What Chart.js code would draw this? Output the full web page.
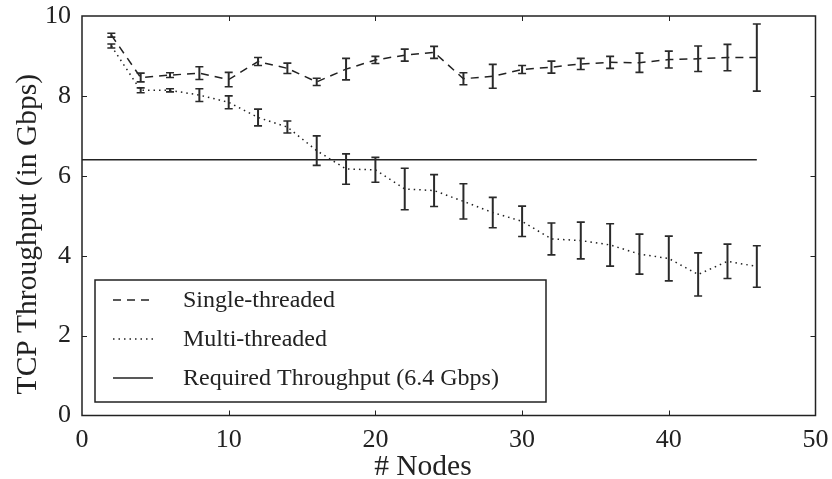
<!DOCTYPE html>
<html>
<head>
<meta charset="utf-8">
<script src="https://cdn.jsdelivr.net/npm/chart.js@4/dist/chart.umd.min.js"></script>
<style>
  html, body { margin: 0; padding: 0; background: #fff; }
</style>
</head>
<body>
<canvas id="chart" width="832" height="479"></canvas>
<script>
// values
const nodes = [2, 4, 6, 8, 10, 12, 14, 16, 18, 20, 22, 24, 26, 28, 30, 32, 34, 36, 38, 40, 42, 44, 46];
const singleThreaded = [9.52, 8.46, 8.52, 8.57, 8.41, 8.86, 8.69, 8.35, 8.67, 8.9, 9.02, 9.09, 8.43, 8.49, 8.66, 8.72, 8.8, 8.84, 8.83, 8.91, 8.93, 8.96, 8.96];
const singleErr = [0.05, 0.11, 0.06, 0.16, 0.18, 0.1, 0.13, 0.09, 0.27, 0.09, 0.15, 0.15, 0.15, 0.3, 0.1, 0.15, 0.14, 0.15, 0.24, 0.21, 0.32, 0.33, 0.84];
const multiThreaded = [9.25, 8.14, 8.14, 8.02, 7.84, 7.46, 7.22, 6.63, 6.17, 6.15, 5.67, 5.63, 5.36, 5.08, 4.86, 4.42, 4.38, 4.27, 4.04, 3.93, 3.53, 3.86, 3.73];
const multiErr = [0.05, 0.06, 0.04, 0.16, 0.16, 0.21, 0.15, 0.37, 0.38, 0.31, 0.52, 0.4, 0.44, 0.38, 0.38, 0.4, 0.46, 0.53, 0.5, 0.56, 0.54, 0.43, 0.52];
const requiredX = [0, 46];
const requiredY = [6.4, 6.4];
const seriesLabels = ["Single-threaded", "Multi-threaded", "Required Throughput (6.4 Gbps)"];
const xTicks = [0, 10, 20, 30, 40, 50];
const yTicks = [0, 2, 4, 6, 8, 10];

const ink = "#222";
const serif = "'Liberation Serif', 'DejaVu Serif', serif";

function toPoints(xs, ys) {
  return xs.map((x, i) => ({ x: x, y: ys[i] }));
}

// error bars drawn through the y scale
const errorBars = {
  id: "errorBars",
  afterDatasetsDraw(chart) {
    const ctx = chart.ctx;
    const xs = chart.scales.x, ys = chart.scales.y;
    ctx.save();
    ctx.strokeStyle = "#2a2a2a";
    chart.data.datasets.forEach(ds => {
      if (!ds.errors) return;
      ds.data.forEach((p, i) => {
        const e = ds.errors[i];
        const px = xs.getPixelForValue(p.x);
        const top = ys.getPixelForValue(p.y + e);
        const bot = ys.getPixelForValue(p.y - e);
        ctx.lineWidth = 2;
        ctx.beginPath();
        ctx.moveTo(px, top); ctx.lineTo(px, bot);
        ctx.stroke();
        ctx.lineWidth = 1.6;
        ctx.beginPath();
        ctx.moveTo(px - 4, top); ctx.lineTo(px + 4, top);
        ctx.moveTo(px - 4, bot); ctx.lineTo(px + 4, bot);
        ctx.stroke();
      });
    });
    ctx.restore();
  }
};

// box frame with inward ticks, and the boxed legend
const frame = {
  id: "frame",
  afterDraw(chart) {
    const ctx = chart.ctx;
    const a = chart.chartArea;
    const xs = chart.scales.x, ys = chart.scales.y;
    ctx.save();
    ctx.strokeStyle = ink;
    ctx.lineWidth = 1.5;
    ctx.strokeRect(a.left, a.top, a.right - a.left, a.bottom - a.top);
    ctx.lineWidth = 1;
    ctx.beginPath();
    xTicks.slice(1, -1).forEach(v => {
      const px = Math.round(xs.getPixelForValue(v)) + 0.5;
      ctx.moveTo(px, a.bottom); ctx.lineTo(px, a.bottom - 5);
      ctx.moveTo(px, a.top); ctx.lineTo(px, a.top + 5);
    });
    yTicks.slice(1, -1).forEach(v => {
      const py = Math.round(ys.getPixelForValue(v)) + 0.5;
      ctx.moveTo(a.left, py); ctx.lineTo(a.left + 5, py);
      ctx.moveTo(a.right, py); ctx.lineTo(a.right - 5, py);
    });
    ctx.stroke();

    // legend
    const lx = a.left + 13, ly = a.bottom - 135.5, lw = 451, lh = 122;
    ctx.fillStyle = "#fff";
    ctx.fillRect(lx, ly, lw, lh);
    ctx.lineWidth = 1.5;
    ctx.strokeRect(lx, ly, lw, lh);
    ctx.font = "24px " + serif;
    ctx.textBaseline = "middle";
    chart.data.datasets.forEach((ds, i) => {
      const rowY = ly + 20 + i * 39;
      ctx.save();
      ctx.strokeStyle = ds.borderColor;
      ctx.lineWidth = ds.borderWidth;
      ctx.setLineDash(ds.borderDash || []);
      ctx.beginPath();
      ctx.moveTo(lx + 18, rowY); ctx.lineTo(lx + 58, rowY);
      ctx.stroke();
      ctx.restore();
      ctx.fillStyle = ink;
      ctx.fillText(ds.label, lx + 88, rowY + 1);
    });
    ctx.restore();
  }
};

new Chart(document.getElementById("chart"), {
  type: "line",
  data: {
    datasets: [
      {
        label: seriesLabels[0],
        data: toPoints(nodes, singleThreaded),
        errors: singleErr,
        borderColor: ink,
        borderWidth: 1.5,
        borderDash: [8, 6],
        pointRadius: 0,
        tension: 0,
        fill: false
      },
      {
        label: seriesLabels[1],
        data: toPoints(nodes, multiThreaded),
        errors: multiErr,
        borderColor: ink,
        borderWidth: 1.5,
        borderDash: [1.5, 4],
        pointRadius: 0,
        tension: 0,
        fill: false
      },
      {
        label: seriesLabels[2],
        data: toPoints(requiredX, requiredY),
        borderColor: ink,
        borderWidth: 1.5,
        pointRadius: 0,
        tension: 0,
        fill: false
      }
    ]
  },
  options: {
    responsive: false,
    animation: false,
    layout: { padding: { top: 16, right: 16.5, left: 0, bottom: 0 } },
    plugins: {
      legend: { display: false },
      tooltip: { enabled: false }
    },
    scales: {
      x: {
        type: "linear",
        min: 0,
        max: 50,
        afterBuildTicks: s => { s.ticks = xTicks.map(v => ({ value: v })); },
        afterFit: s => { s.height = 63.5; s.paddingLeft = 0; s.paddingRight = 0; },
        grid: { display: false },
        border: { display: false },
        ticks: { color: ink, padding: 1, font: { family: serif, size: 26 } },
        title: {
          display: true,
          text: "# Nodes" + "\u00a0".repeat(7),
          color: ink,
          padding: { top: 0, bottom: 0 },
          font: { family: serif, size: 29.5, lineHeight: 0.8 }
        }
      },
      y: {
        type: "linear",
        min: 0,
        max: 10,
        afterBuildTicks: s => { s.ticks = yTicks.map(v => ({ value: v })); },
        afterFit: s => { s.width = 82; s.paddingTop = 0; s.paddingBottom = 0; },
        grid: { display: false },
        border: { display: false },
        ticks: { color: ink, padding: 3, font: { family: serif, size: 26 } },
        title: {
          display: true,
          text: "TCP Throughput (in Gbps)" + "\u00a0".repeat(5),
          color: ink,
          padding: { top: 13.5, bottom: 0 },
          font: { family: serif, size: 29.5, lineHeight: 1 }
        }
      }
    }
  },
  plugins: [errorBars, frame]
});
</script>
</body>
</html>
